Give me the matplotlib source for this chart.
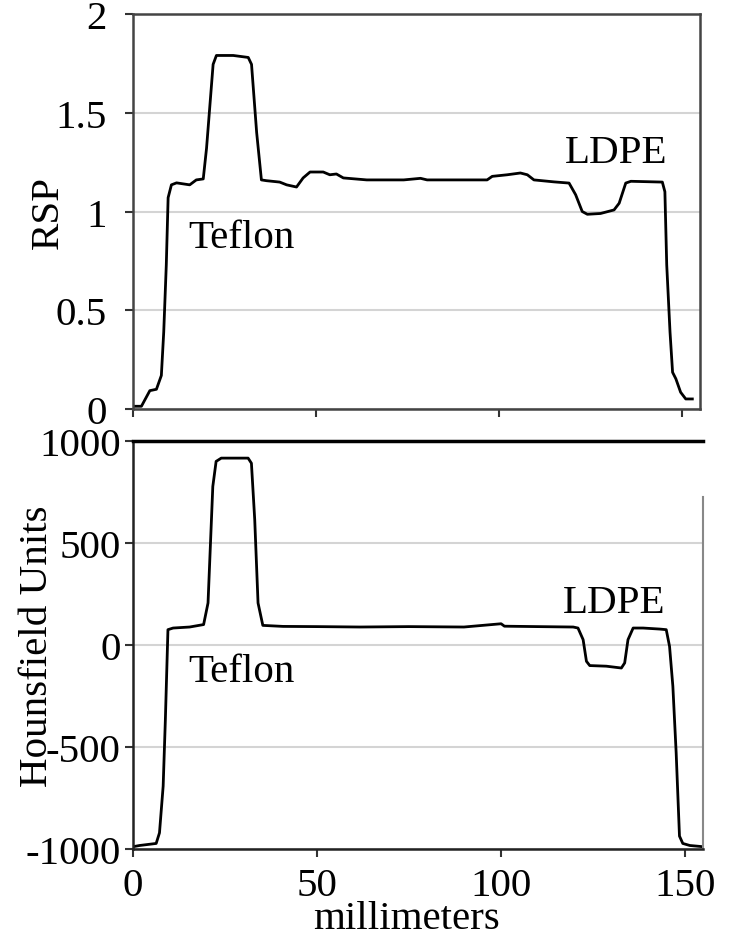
import matplotlib
matplotlib.use("Agg")
import matplotlib.pyplot as plt

# RSP profile (top panel)
rsp_mm = [0, 2.3, 4.6, 6.4, 7.75, 8.4, 9.1, 9.6, 10.5, 11.9, 15.5, 17.3, 19.2, 20.1, 21.9, 22.8,
          27.4, 31.5, 32.4, 33.8, 35.1, 36.5, 40.1, 42.0, 44.7, 46.5, 48.4, 52.0, 53.8, 55.6,
          57.5, 63.9, 65.8, 74.0, 78.6, 80.4, 96.8, 98.2, 102.3, 105.9, 107.8, 109.6, 115.1,
          119.2, 121.0, 122.8, 124.2, 127.8, 131.5, 132.9, 134.7, 136.1, 144.7, 145.4, 145.9,
          146.8, 147.5, 148.4, 149.7, 151.1, 152.9]
rsp_val = [0.014, 0.014, 0.093, 0.10, 0.17, 0.39, 0.73, 1.07, 1.135, 1.145, 1.135, 1.16, 1.165,
           1.32, 1.745, 1.79, 1.79, 1.78, 1.745, 1.40, 1.16, 1.156, 1.149, 1.135, 1.124, 1.17,
           1.20, 1.20, 1.186, 1.19, 1.17, 1.16, 1.16, 1.16, 1.168, 1.16, 1.16, 1.178, 1.186,
           1.195, 1.186, 1.16, 1.15, 1.144, 1.085, 1.0, 0.986, 0.99, 1.008, 1.042, 1.144, 1.153,
           1.149, 1.10, 0.73, 0.39, 0.186, 0.153, 0.085, 0.051, 0.051]

# Hounsfield profile (bottom panel)
hu_mm = [0, 1.8, 6.3, 7.2, 8.2, 8.8, 9.5, 10.9, 15.4, 19.2, 20.4, 21.7, 22.6, 24.0, 31.3, 32.2,
         33.1, 34.0, 35.3, 40.8, 50.0, 61.7, 75.0, 90.0, 100.1, 101.0, 110.0, 119.7, 121.0,
         122.4, 123.3, 124.2, 128.7, 132.8, 133.7, 134.6, 136.0, 138.7, 143.2, 145.0, 145.9,
         146.8, 147.7, 148.6, 149.5, 151.4, 155.0]
hu_val = [-989, -983, -973, -921, -692, -366, 75, 83, 88, 100, 206, 777, 900, 916, 916, 891,
          614, 206, 96, 91, 90, 88, 90, 88, 104, 92, 90, 88, 83, 26, -80, -101, -104, -113, -88,
          26, 83, 83, 78, 75, -7, -202, -529, -937, -973, -983, -989]

rsp_ticks = [0, 0.5, 1, 1.5, 2]
rsp_ticklabels = ["0", "0.5", "1", "1.5", "2"]
hu_ticks = [-1000, -500, 0, 500, 1000]
hu_ticklabels = ["-1000", "-500", "0", "500", "1000"]
x_ticks = [0, 50, 100, 150]
x_ticklabels = ["0", "50", "100", "150"]

plt.rcParams['font.family'] = ['Liberation Serif', 'DejaVu Serif']
FS = 29.5

fig = plt.figure(figsize=(7.32, 9.37), dpi=100)
ax1 = fig.add_axes([0.1817, 0.5624, 0.9563 - 0.1817, 0.984 - 0.5624])
ax2 = fig.add_axes([0.1817, 0.0929, 0.9604 - 0.1817, 0.5283 - 0.0929])

grid_c = '#d4d4d4'
for ax in (ax1, ax2):
    ax.set_xlim(0, 155)
    ax.set_xticks(x_ticks)
    ax.tick_params(axis='both', direction='out', length=6, width=1.5, colors='#333333',
                   labelcolor='black', labelsize=FS)
    ax.grid(axis='y', color=grid_c, linewidth=1.5)
    ax.set_axisbelow(True)

# Top panel
ax1.plot(rsp_mm, rsp_val, color='black', linewidth=2.0)
ax1.set_ylim(0, 2)
ax1.set_yticks(rsp_ticks)
ax1.set_yticklabels(rsp_ticklabels)
ax1.set_xticklabels([])
ax1.tick_params(axis='y', pad=13)
for s in ax1.spines.values():
    s.set_color('#444444')
    s.set_linewidth(1.8)
ax1.set_ylabel("RSP", fontsize=FS)
ax1.yaxis.set_label_coords(-0.116, 0.5)
ax1.text(15, 0.82, "Teflon", fontsize=FS, va='baseline', ha='left')
ax1.text(118, 1.25, "LDPE", fontsize=FS, va='baseline', ha='left')

# Bottom panel
ax2.plot(hu_mm, hu_val, color='black', linewidth=2.0)
ax2.set_ylim(-1000, 1000)
ax2.set_yticks(hu_ticks)
ax2.set_yticklabels(hu_ticklabels)
ax2.set_xticklabels(x_ticklabels)
ax2.tick_params(axis='y', pad=3)
ax2.tick_params(axis='x', pad=7)
ax2.spines['left'].set_color('#222222')
ax2.spines['left'].set_linewidth(1.8)
ax2.spines['bottom'].set_color('#222222')
ax2.spines['bottom'].set_linewidth(1.8)
ax2.spines['top'].set_color('black')
ax2.spines['top'].set_linewidth(2.5)
ax2.spines['right'].set_color('#888888')
ax2.spines['right'].set_linewidth(1.5)
ax2.spines['right'].set_bounds(-1000, 726)
ax2.set_ylabel("Hounsfield Units", fontsize=FS)
ax2.yaxis.set_label_coords(-0.135, 0.5)
ax2.set_xlabel("millimeters", fontsize=FS)
ax2.xaxis.set_label_coords(0.48, -0.125)
ax2.text(15, -176, "Teflon", fontsize=FS, va='baseline', ha='left')
ax2.text(117, 162, "LDPE", fontsize=FS, va='baseline', ha='left')

fig.savefig("out.png", dpi=100)
